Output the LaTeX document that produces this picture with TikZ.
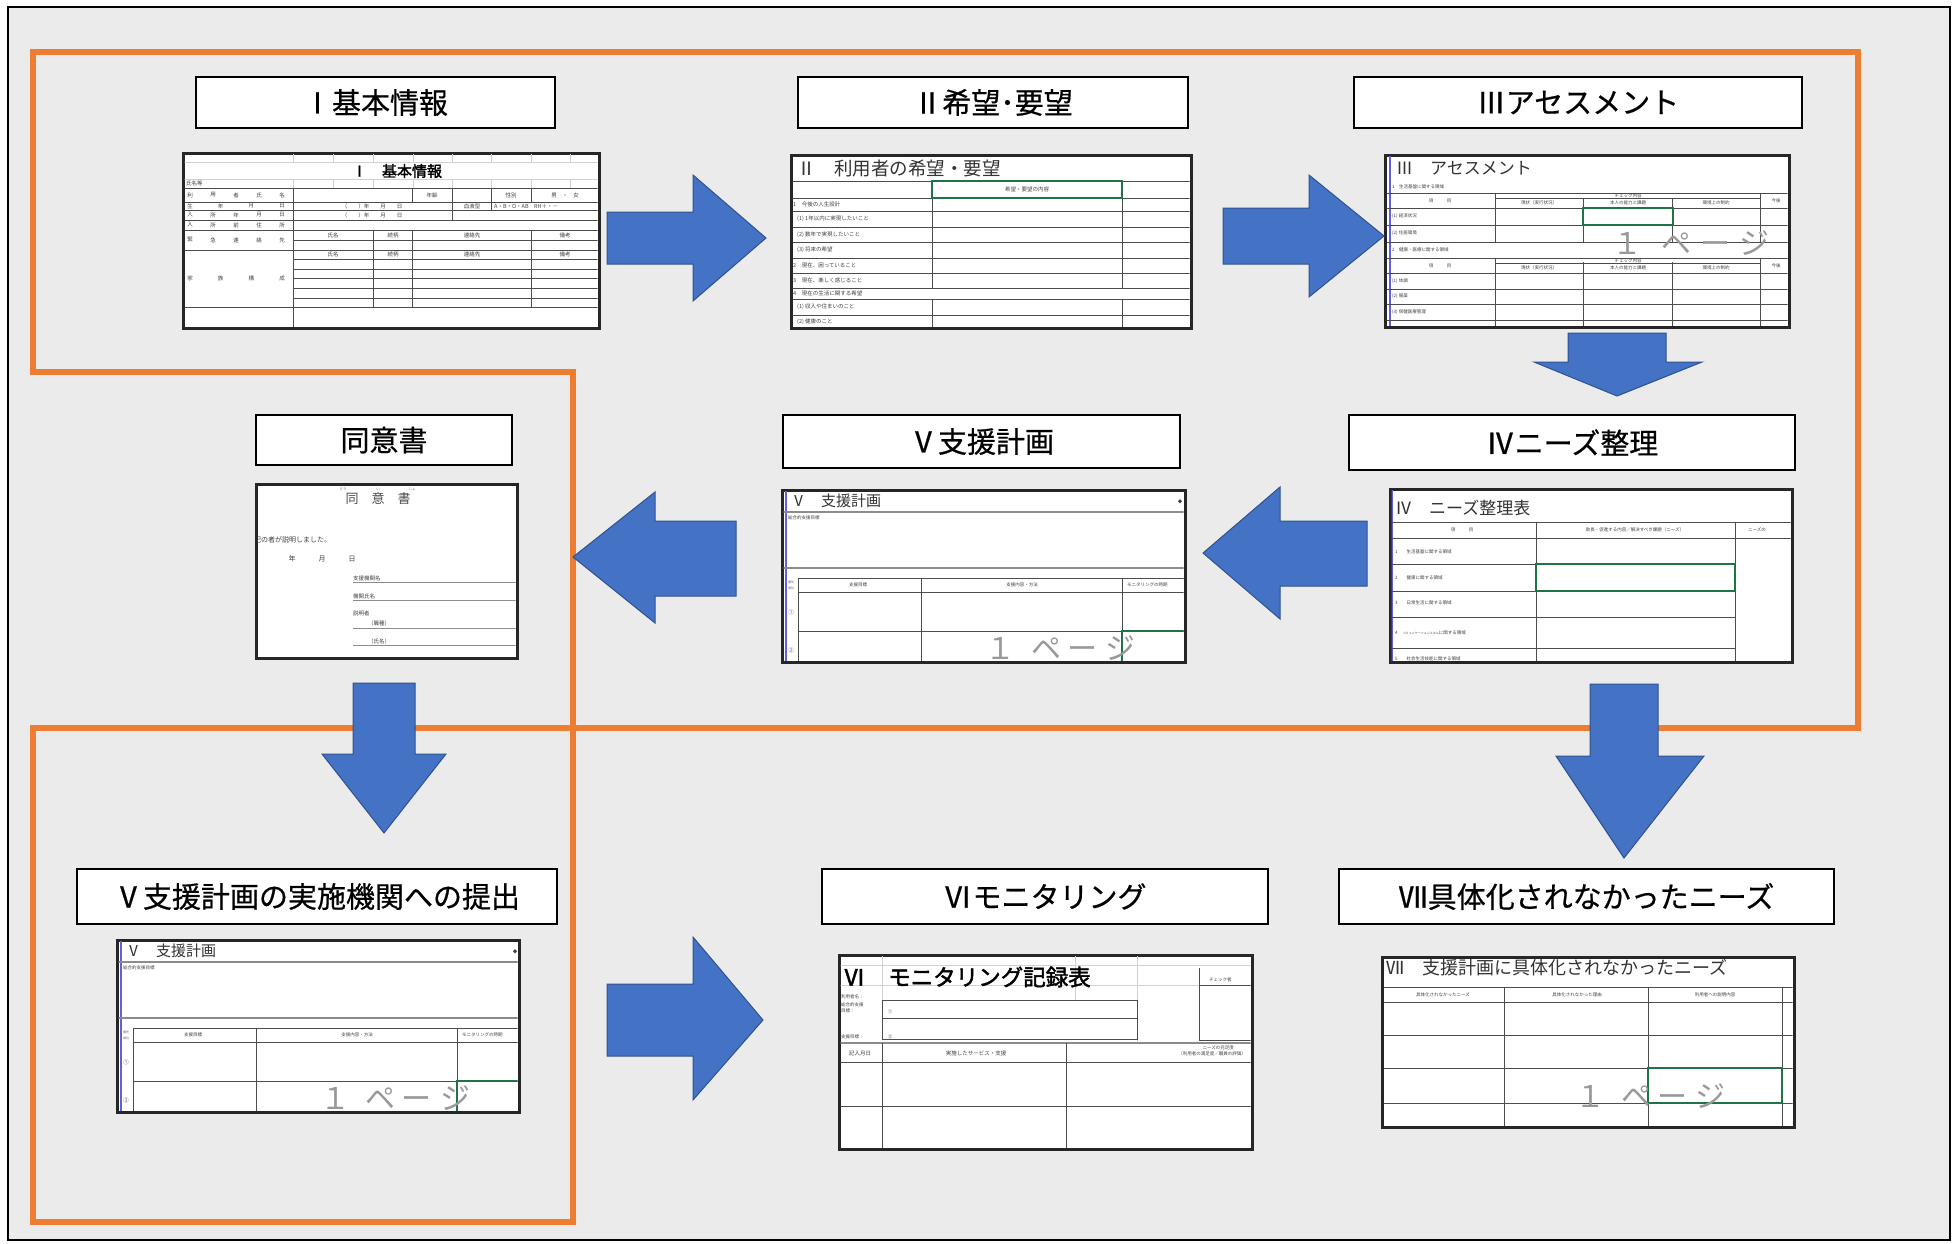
\documentclass[tikz,border=0pt]{standalone}
\usepackage{fontspec}
\setmainfont{Noto Sans CJK JP}
\newfontfamily\jpbold[FakeBold=2]{Noto Sans CJK JP}
\newfontfamily\jpmedium[FakeBold=0.6]{Noto Sans CJK JP}
\definecolor{panelgray}{HTML}{EBEBEB}
\definecolor{flowline}{HTML}{ED7D31}
\definecolor{arrowblue}{HTML}{4472C4}
\definecolor{arrowedge}{HTML}{2F528F}
\definecolor{cellgreen}{HTML}{217346}
\definecolor{sheetblue}{RGB}{95,95,225}
\tikzset{
  lbl/.style={draw=black, line width=2, fill=white, inner sep=0,
    font=\jpmedium\fontsize{29}{30}\selectfont},
  thumb/.style={draw=black!85, line width=3, fill=white, inner sep=0},
  grid/.style={draw=black!70, line width=0.9},
  faint/.style={draw=black!18, line width=0.8},
  tt/.style={inner sep=0, text=black!75, font=\fontsize{5.5}{6}\selectfont},
  ts/.style={inner sep=0, text=black!75, font=\fontsize{4.5}{5}\selectfont},
  sheettitle/.style={inner sep=0, anchor=west, text=black!80, font=\fontsize{17}{18}\selectfont},
  wmark/.style={inner sep=0, text=black!40, font=\fontsize{30}{30}\selectfont},
  greencell/.style={draw=cellgreen, line width=1.2},
  blk/.style={fill=arrowblue, draw=arrowedge, line width=1, line join=miter},
}
\newcommand\thumbbox[5]{%
  \node[thumb, minimum width={#4-#2}, minimum height={#5-#3}] (#1) at ({(#2+#4)/2},{(#3+#5)/2}) {};}
\newcommand\spreadrow[4]{%
  \foreach \c [count=\i from 0] in {#4} \node[tt] at ({#1+\i*#2},#3) {\c};}
% support-plan sheet, drawn in local coordinates (403 x 172)
\newcommand\plansheet{%
  \draw[sheetblue, line width=1.2] (4,0) -- (4,172);
  \node[sheettitle, font=\fontsize{15}{16}\selectfont] at (9,11) {Ⅴ　支援計画};
  \node[ts] at (398,12) {◆};
  \draw[black!45, line width=1.5] (0,22) -- (403,22);
  \node[ts, anchor=west] at (6,28) {総合的支援目標};
  \draw[black!45, line width=1.5] (0,78) -- (403,78);
  \draw[grid] (16,88) -- (403,88) (16,102) -- (403,102) (16,141) -- (403,141);
  \draw[grid] (16,88) -- (16,172) (139,88) -- (139,172) (340,88) -- (340,172);
  \node[ts] at (76,95) {支援目標};
  \node[ts] at (240,95) {支援内容・方法};
  \node[ts, anchor=west] at (345,95) {モニタリングの時期};
  \node[inner sep=0, font=\fontsize{3}{3.2}\selectfont, text=black!60] at (9,95) {\shortstack{優先\\順位}};
  \node[tt] at (9,122) {①};
  \node[tt] at (9,160) {②};
  \draw[greencell] (340,141) rectangle (405,174);
  \node[wmark] at (278,158) {１\kern16pt ペ\kern6pt ー\kern8pt ジ};
}
\begin{document}
\begin{tikzpicture}[x=1pt,y=-1pt]
\useasboundingbox (0,0) rectangle (1955,1243);
\fill[white] (0,0) rectangle (1955,1243);
\draw[black, line width=2.5, fill=panelgray] (8,7) rectangle (1950,1240);

% orange grouping frames
\draw[flowline, line width=6, line join=miter]
  (33,52) -- (1858,52) -- (1858,728) -- (33,728) -- (33,1222) -- (573,1222)
  -- (573,372) -- (33,372) -- cycle;

% step labels
\node[lbl, minimum width=359, minimum height=51] (l1) at (375.5,102.5) {Ⅰ基本情報};
\node[lbl, minimum width=390, minimum height=51] (l2) at (993,102.5) {Ⅱ希望･要望};
\node[lbl, minimum width=448, minimum height=51] (l3) at (1578,102.5) {Ⅲアセスメント};
\node[lbl, minimum width=256, minimum height=50] (l4) at (384,440) {同意書};
\node[lbl, minimum width=397, minimum height=53] (l5) at (981.5,441.5) {Ⅴ支援計画};
\node[lbl, minimum width=446, minimum height=55] (l6) at (1572,442.5) {Ⅳニーズ整理};
\node[lbl, minimum width=480, minimum height=55] (l7) at (317,896.5) {Ⅴ支援計画の実施機関への提出};
\node[lbl, minimum width=446, minimum height=55] (l8) at (1045,896.5) {Ⅵモニタリング};
\node[lbl, minimum width=495, minimum height=55] (l9) at (1586.5,896.5) {Ⅶ具体化されなかったニーズ};

% ---------- sheet I : basic information ----------
\thumbbox{t1}{183}{153}{599}{328}
\begin{scope}
\clip (184.5,154.5) rectangle (597.5,326.5);
\draw[faint] (183,162) -- (599,162) (183,179) -- (599,179);
\foreach \x in {293,333,373,413,452,491,531,570}
  \draw[faint] (\x,153) -- (\x,162) (\x,179) -- (\x,188);
\node[inner sep=0, font=\jpbold\fontsize{15}{16}\selectfont] at (397,171) {Ⅰ　基本情報};
\node[tt, anchor=west] at (186,183) {氏名等};
\draw[grid] (183,188) -- (599,188) (183,202) -- (599,202) (183,210) -- (599,210)
  (183,220) -- (599,220) (183,230) -- (599,230) (293,240) -- (599,240)
  (183,250) -- (599,250) (293,259) -- (599,259) (293,269) -- (599,269)
  (293,278) -- (599,278) (293,288) -- (599,288) (293,298) -- (599,298)
  (183,307) -- (599,307);
\draw[grid] (293,188) -- (293,328) (412,188) -- (412,202) (452,188) -- (452,220)
  (491,188) -- (491,210) (531,188) -- (531,202)
  (373,230) -- (373,307) (412,230) -- (412,307) (531,230) -- (531,307);
\spreadrow{190}{23}{195}{利,用,者,氏,名}
\spreadrow{190}{30.7}{206}{生,年,月,日}
\spreadrow{190}{23}{215}{入,所,年,月,日}
\spreadrow{190}{23}{225}{入,所,前,住,所}
\spreadrow{190}{23}{240}{緊,急,連,絡,先}
\spreadrow{190}{30.7}{278}{家,族,構,成}
\node[tt] at (432,195) {年齢};
\node[tt] at (511,195) {性別};
\node[tt] at (565,195) {男　・　女};
\node[tt] at (372,206) {（　　）年　　月　　日};
\node[tt] at (472,206) {血液型};
\node[tt, anchor=west] at (494,206) {A・B・O・AB　RH＋・－};
\node[tt] at (372,215) {（　　）年　　月　　日};
\foreach \y in {235,254} {
  \node[tt] at (333,\y) {氏名};
  \node[tt] at (393,\y) {続柄};
  \node[tt] at (472,\y) {連絡先};
  \node[tt] at (565,\y) {備考};
}
\end{scope}

% ---------- sheet II : wishes ----------
\thumbbox{t2}{791}{155}{1191}{328}
\begin{scope}
\clip (792.5,156.5) rectangle (1189.5,326.5);
\node[sheettitle, font=\fontsize{18.5}{19}\selectfont] at (797,168) {Ⅱ　利用者の希望・要望};
\draw[grid] (791,181) -- (1191,181) (791,198) -- (1191,198) (791,211) -- (1191,211)
  (791,227) -- (1191,227) (791,242) -- (1191,242) (791,258) -- (1191,258)
  (791,273) -- (1191,273) (791,288) -- (1191,288) (791,299) -- (1191,299)
  (791,315) -- (1191,315);
\draw[grid] (932,198) -- (932,288) (1122,198) -- (1122,288)
  (932,299) -- (932,328) (1122,299) -- (1122,328);
\draw[greencell] (932,181) rectangle (1122,198);
\node[tt] at (1027,189.5) {希望・要望の内容};
\node[tt, anchor=west] at (793,204.5) {1　今後の人生設計};
\node[tt, anchor=west] at (797,219) {(1) 1年以内に実現したいこと};
\node[tt, anchor=west] at (797,234.5) {(2) 数年で実現したいこと};
\node[tt, anchor=west] at (797,250) {(3) 将来の希望};
\node[tt, anchor=west] at (793,265.5) {2　現在、困っていること};
\node[tt, anchor=west] at (793,280.5) {3　現在、楽しく感じること};
\node[tt, anchor=west] at (793,293.5) {4　現在の生活に関する希望};
\node[tt, anchor=west] at (797,307) {(1) 収入や住まいのこと};
\node[tt, anchor=west] at (797,322) {(2) 健康のこと};
\end{scope}

% ---------- sheet III : assessment ----------
\thumbbox{t3}{1385}{155}{1789}{327}
\begin{scope}
\clip (1386.5,156.5) rectangle (1787.5,325.5);
\draw[sheetblue, line width=1.2] (1390,155) -- (1390,327);
\node[sheettitle] at (1396,168) {Ⅲ　アセスメント};
\node[ts, anchor=west] at (1392,187) {1　生活基盤に関する領域};
\node[ts, anchor=west] at (1392,250) {2　健康・医療に関する領域};
\foreach \t in {193,258} {
  \draw[grid] (1385,\t) -- (1789,\t) (1495,\t+5) -- (1760,\t+5);
  \node[ts] at (1440,\t+7.5) {項　　　目};
  \node[ts] at (1628,\t+2.5) {チェック内容};
  \node[ts] at (1539,\t+10) {現状（実行状況）};
  \node[ts] at (1628,\t+10) {本人の能力と課題};
  \node[ts] at (1716,\t+10) {環境上の制約};
  \node[ts] at (1776,\t+7.5) {今後};
}
\draw[grid] (1385,208) -- (1789,208) (1385,225) -- (1789,225) (1385,242) -- (1789,242)
  (1385,273) -- (1789,273) (1385,289) -- (1789,289) (1385,304) -- (1789,304)
  (1385,320) -- (1789,320);
\draw[grid] (1495,193) -- (1495,242) (1583,198) -- (1583,242) (1672,198) -- (1672,242)
  (1760,193) -- (1760,242)
  (1495,258) -- (1495,327) (1583,262) -- (1583,327) (1672,262) -- (1672,327)
  (1760,258) -- (1760,327);
\node[ts, anchor=west] at (1392,216.5) {(1) 経済状況};
\node[ts, anchor=west] at (1392,233.5) {(2) 住居環境};
\node[ts, anchor=west] at (1392,281) {(1) 体調};
\node[ts, anchor=west] at (1392,296.5) {(2) 服薬};
\node[ts, anchor=west] at (1392,312) {(3) 保健医療管理};
\draw[greencell] (1583,208) rectangle (1673,225);
\node[wmark] at (1691,243) {１\kern20pt ペ\kern8pt ー\kern10pt ジ};
\end{scope}

% ---------- consent form ----------
\thumbbox{t4}{256}{484}{517}{658}
\begin{scope}
\clip (257.5,485.5) rectangle (515.5,656.5);
\node[inner sep=0, text=black!70, font=\fontsize{13}{14}\selectfont] at (378,499) {同　意　書};
\node[inner sep=0, text=black!60, font=\fontsize{3.5}{4}\selectfont] at (343,489.5) {どう};
\node[inner sep=0, text=black!60, font=\fontsize{3.5}{4}\selectfont] at (378,489.5) {い};
\node[inner sep=0, text=black!60, font=\fontsize{3.5}{4}\selectfont] at (412,489.5) {しょ};
\node[tt, anchor=west, font=\fontsize{7}{8}\selectfont] at (247,540) {上記の者が説明しました。};
\node[tt, font=\fontsize{7}{8}\selectfont] at (292,559) {年};
\node[tt, font=\fontsize{7}{8}\selectfont] at (322,559) {月};
\node[tt, font=\fontsize{7}{8}\selectfont] at (352,559) {日};
\node[tt, anchor=west] at (353,578) {支援機関名};
\node[tt, anchor=west] at (353,596) {機関氏名};
\node[tt, anchor=west] at (353,613) {説明者};
\node[tt, anchor=west] at (368,623) {（職種）};
\node[tt, anchor=west] at (368,641) {（氏名）};
\draw[black!45, line width=0.9] (353,582) -- (517,582) (353,600) -- (517,600)
  (353,628) -- (517,628) (353,645) -- (517,645);
\end{scope}

% ---------- support plan (two copies) ----------
\thumbbox{t5}{782}{490}{1185}{662}
\begin{scope}
\clip (783.5,491.5) rectangle (1183.5,660.5);
\begin{scope}[shift={(782,490)}]\plansheet\end{scope}
\end{scope}
\thumbbox{t7}{117}{940}{519}{1112}
\begin{scope}
\clip (118.5,941.5) rectangle (517.5,1110.5);
\begin{scope}[shift={(117,940)}]\plansheet\end{scope}
\end{scope}

% ---------- needs table ----------
\thumbbox{t6}{1390}{489}{1792}{662}
\begin{scope}
\clip (1391.5,490.5) rectangle (1790.5,660.5);
\begin{scope}[shift={(1390,489)}]
\draw[sheetblue, line width=1.2] (2,0) -- (2,173);
\node[sheettitle] at (5,19) {Ⅳ　ニーズ整理表};
\draw[grid] (0,33) -- (402,33) (0,49) -- (402,49);
\draw[grid] (146,33) -- (146,173) (345,33) -- (345,173);
\draw[grid] (0,75) -- (345,75) (0,102) -- (345,102) (0,128) -- (345,128) (0,159) -- (345,159);
\node[ts] at (72,41) {項　　　目};
\node[ts] at (245,41) {助長・促進する内容／解決すべき課題（ニーズ）};
\node[ts, anchor=west] at (358,41) {ニーズの};
\node[ts, anchor=west] at (5,63) {1　　生活基盤に関する領域};
\node[ts, anchor=west] at (5,89) {2　　健康に関する領域};
\node[ts, anchor=west] at (5,114) {3　　日常生活に関する領域};
\node[ts, anchor=west] at (5,144) {4　\,{\fontsize{3}{3}\selectfont コミュニケーションスキル}に関する領域};
\node[ts, anchor=west] at (5,170) {5　　社会生活技能に関する領域};
\draw[greencell] (146,75) rectangle (345,102);
\end{scope}
\end{scope}

% ---------- monitoring record ----------
\thumbbox{t8}{839}{955}{1252}{1149}
\begin{scope}
\clip (840.5,956.5) rectangle (1250.5,1147.5);
\draw[faint] (839,965) -- (1252,965) (839,985) -- (1199,985);
\draw[faint] (882,955) -- (882,1000) (1075,955) -- (1075,1000) (1137,955) -- (1137,1043);
\node[inner sep=0, anchor=west, font=\jpbold\fontsize{22.5}{23}\selectfont] at (843,977) {Ⅵ　モニタリング記録表};
\draw[grid] (1199,968) -- (1199,1040) (1199,985) -- (1252,985) (1199,1040) -- (1252,1040);
\node[ts, anchor=west] at (1209,980) {チェック者};
\node[ts, anchor=west] at (841,997) {利用者名：};
\draw[grid] (882,1000) rectangle (1137,1039) (882,1018) -- (1137,1018);
\node[ts, anchor=west] at (841,1005) {総合的支援};
\node[ts, anchor=west] at (841,1011) {目標：};
\node[ts] at (890,1012) {①};
\node[ts, anchor=west] at (841,1037) {支援目標：};
\node[ts] at (890,1037) {②};
\draw[black!45, line width=2] (839,1043) -- (1252,1043);
\draw[grid] (839,1062) -- (1252,1062) (839,1106) -- (1252,1106);
\draw[grid] (882,1043) -- (882,1149) (1066,1043) -- (1066,1149);
\node[tt] at (860,1053) {記入月日};
\node[tt] at (976,1053) {実施したサービス・支援};
\node[ts, anchor=east] at (1234,1047.5) {ニーズの充足度};
\node[ts, anchor=east] at (1246,1054) {（利用者の満足度／職員の評価）};
\end{scope}

% ---------- needs not realised ----------
\thumbbox{t9}{1382}{957}{1794}{1127}
\begin{scope}
\clip (1383.5,958.5) rectangle (1792.5,1125.5);
\node[sheettitle, font=\fontsize{18}{19}\selectfont] at (1386,968) {Ⅶ　支援計画に具体化されなかったニーズ};
\draw[grid] (1382,987) -- (1794,987) (1382,1002) -- (1794,1002) (1382,1035) -- (1794,1035)
  (1382,1068) -- (1794,1068) (1382,1103) -- (1794,1103);
\draw[grid] (1504,987) -- (1504,1127) (1648,987) -- (1648,1127) (1782,987) -- (1782,1127);
\node[ts] at (1443,995) {具体化されなかったニーズ};
\node[ts] at (1577,995) {具体化されなかった理由};
\node[ts] at (1715,995) {利用者への説明内容};
\draw[greencell] (1648,1068) rectangle (1782,1103);
\node[wmark] at (1650,1096) {１\kern16pt ペ\kern6pt ー\kern8pt ジ};
\end{scope}

% ---------- flow arrows ----------
\draw[blk] (607,212) -- (693,212) -- (693,175) -- (766,238) -- (693,301) -- (693,264) -- (607,264) -- cycle;
\draw[blk] (1223,208) -- (1309,208) -- (1309,175) -- (1384,236) -- (1309,297) -- (1309,264) -- (1223,264) -- cycle;
\draw[blk] (1568,333) -- (1666,333) -- (1666,362) -- (1702,362) -- (1617,396) -- (1534,362) -- (1568,362) -- cycle;
\draw[blk] (1367,521) -- (1280,521) -- (1280,487) -- (1203,553) -- (1280,619) -- (1280,586) -- (1367,586) -- cycle;
\draw[blk] (736,521) -- (655,521) -- (655,492) -- (573,557) -- (655,623) -- (655,596) -- (736,596) -- cycle;
\draw[blk] (353,683) -- (415,683) -- (415,754) -- (446,754) -- (384,833) -- (322,754) -- (353,754) -- cycle;
\draw[blk] (1590,684) -- (1658,684) -- (1658,756) -- (1704,756) -- (1624,858) -- (1556,756) -- (1590,756) -- cycle;
\draw[blk] (607,984) -- (693,984) -- (693,937) -- (763,1020) -- (693,1100) -- (693,1056) -- (607,1056) -- cycle;
\end{tikzpicture}
\end{document}
